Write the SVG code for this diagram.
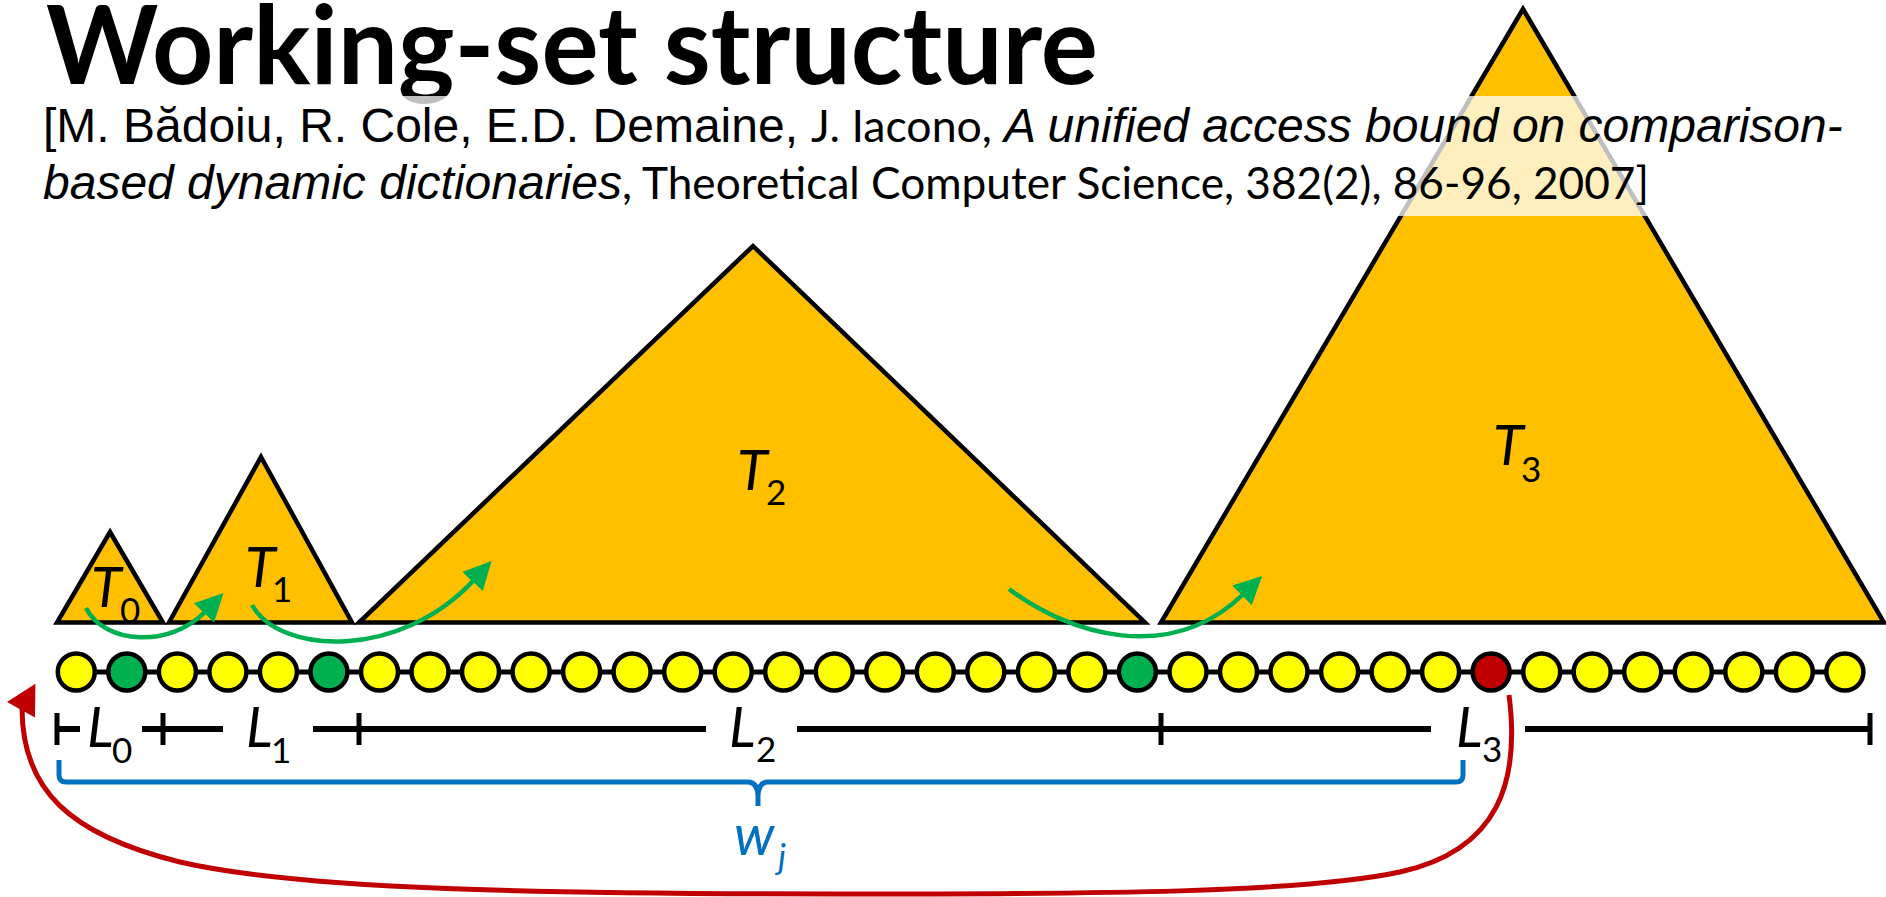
<svg xmlns="http://www.w3.org/2000/svg" width="1886" height="897" viewBox="0 0 1886 897">
<defs>
<style>
.tri{fill:#FFC000;stroke:#000;stroke-width:4.5}
.cy{fill:#FFFF00;stroke:#000;stroke-width:4.5}
.cg{fill:#00B050;stroke:#000;stroke-width:4.5}
.cr{fill:#C00000;stroke:#000;stroke-width:4.5}
.lbl{font-family:Lato,"Open Sans",sans-serif;font-style:italic;font-size:56px;fill:#000}
.sub{font-family:Lato,"Open Sans",sans-serif;font-size:35px;fill:#000}
.arial{font-family:"Liberation Sans",Arial,sans-serif;font-size:48px;fill:#000}
.it{font-style:italic}
.cal{font-family:Lato,"Open Sans",sans-serif;font-size:44px;fill:#000}
.ln{stroke:#000;stroke-width:6;fill:none}
.tk{stroke:#000;stroke-width:5;fill:none}
.ga{stroke:#00B050;stroke-width:4.5;fill:none}
</style>
<marker id="ag" markerUnits="userSpaceOnUse" markerWidth="28" markerHeight="28" viewBox="0 0 26 26" refX="2" refY="13" orient="auto"><path d="M0,0 L26,13 L0,26 z" fill="#00B050"/></marker>
<marker id="ar" markerUnits="userSpaceOnUse" markerWidth="32" markerHeight="32" viewBox="0 0 28 30" refX="2" refY="15" orient="-61"><path d="M0,0 L28,15 L0,30 z" fill="#C00000"/></marker>
</defs>
<rect width="1886" height="897" fill="#fff"/>

<g id="T0"><polygon class="tri" points="110,532 163,622.5 57,622.5"/></g>
<g id="T1"><polygon class="tri" points="261,457 352,622.5 169,622.5"/></g>
<g id="T2"><polygon class="tri" points="753,246 1145,622.5 359,622.5"/></g>
<g id="T3"><polygon class="tri" points="1523,9 1884,622.5 1161,622.5"/></g>

<g id="title">
<text x="46" y="84" font-family="Lato,'Open Sans',sans-serif" font-weight="700" font-size="110" textLength="1052" lengthAdjust="spacingAndGlyphs">Working-set structure</text>
</g>
<g id="citation">
<rect x="40" y="96" width="1810" height="120" fill="#fff" fill-opacity="0.75"/>
<text class="arial" x="43" y="142">[M. Bădoiu, R. Cole, E.D. Demaine, </text>
<text class="cal" x="811" y="142" textLength="181" lengthAdjust="spacingAndGlyphs">J. Iacono,</text>
<text class="arial it" x="1004" y="142">A unified access bound on comparison-</text>
<text class="arial it" x="43" y="199">based dynamic dictionaries</text>
<text class="cal" x="622" y="199" textLength="1027" lengthAdjust="spacingAndGlyphs">, Theoretical Computer Science, 382(2), 86-96, 2007]</text>
</g>

<g id="tree-labels">
<text class="lbl" x="91" y="607">T</text><text class="sub" x="120" y="623">0</text>
<text class="lbl" x="245" y="587">T</text><text class="sub" x="272" y="602">1</text>
<text class="lbl" x="737" y="490">T</text><text class="sub" x="766" y="505">2</text>
<text class="lbl" x="1493" y="465">T</text><text class="sub" x="1521" y="482">3</text>
</g>

<g id="connectors">
<path class="ga" d="M86,608 C105,645 170,648 205.5,611.5" marker-end="url(#ag)"/>
<path class="ga" d="M252,605 C280,655 400,660 474,580" marker-end="url(#ag)"/>
<path class="ga" d="M1009,589 C1070,635 1170,665 1243.5,594" marker-end="url(#ag)"/>
<line x1="76.3" y1="672" x2="1844.9" y2="672" stroke="#000" stroke-width="5"/>
<path d="M1509,695 C1520,780 1500,850 1400,872 C1300,893 1100,894 842,894 C550,894 300,890 180,862 C70,835 22,790 22,708" fill="none" stroke="#C00000" stroke-width="5" marker-end="url(#ar)"/>
</g>

<g id="list">
<circle class="cy" cx="76.3" cy="672" r="18.5"/>
<circle class="cg" cx="126.8" cy="672" r="18.5"/>
<circle class="cy" cx="177.4" cy="672" r="18.5"/>
<circle class="cy" cx="227.9" cy="672" r="18.5"/>
<circle class="cy" cx="278.4" cy="672" r="18.5"/>
<circle class="cg" cx="328.9" cy="672" r="18.5"/>
<circle class="cy" cx="379.5" cy="672" r="18.5"/>
<circle class="cy" cx="430.0" cy="672" r="18.5"/>
<circle class="cy" cx="480.5" cy="672" r="18.5"/>
<circle class="cy" cx="531.1" cy="672" r="18.5"/>
<circle class="cy" cx="581.6" cy="672" r="18.5"/>
<circle class="cy" cx="632.1" cy="672" r="18.5"/>
<circle class="cy" cx="682.7" cy="672" r="18.5"/>
<circle class="cy" cx="733.2" cy="672" r="18.5"/>
<circle class="cy" cx="783.7" cy="672" r="18.5"/>
<circle class="cy" cx="834.3" cy="672" r="18.5"/>
<circle class="cy" cx="884.8" cy="672" r="18.5"/>
<circle class="cy" cx="935.3" cy="672" r="18.5"/>
<circle class="cy" cx="985.8" cy="672" r="18.5"/>
<circle class="cy" cx="1036.4" cy="672" r="18.5"/>
<circle class="cy" cx="1086.9" cy="672" r="18.5"/>
<circle class="cg" cx="1137.4" cy="672" r="18.5"/>
<circle class="cy" cx="1188.0" cy="672" r="18.5"/>
<circle class="cy" cx="1238.5" cy="672" r="18.5"/>
<circle class="cy" cx="1289.0" cy="672" r="18.5"/>
<circle class="cy" cx="1339.6" cy="672" r="18.5"/>
<circle class="cy" cx="1390.1" cy="672" r="18.5"/>
<circle class="cy" cx="1440.6" cy="672" r="18.5"/>
<circle class="cr" cx="1491.1" cy="672" r="18.5"/>
<circle class="cy" cx="1541.7" cy="672" r="18.5"/>
<circle class="cy" cx="1592.2" cy="672" r="18.5"/>
<circle class="cy" cx="1642.7" cy="672" r="18.5"/>
<circle class="cy" cx="1693.3" cy="672" r="18.5"/>
<circle class="cy" cx="1743.8" cy="672" r="18.5"/>
<circle class="cy" cx="1794.3" cy="672" r="18.5"/>
<circle class="cy" cx="1844.9" cy="672" r="18.5"/>
</g>

<g id="intervals">
<path class="ln" d="M57,729 H80 M142,729 H223 M313,729 H706 M797,729 H1431 M1525,729 H1870"/>
<path class="tk" d="M57,713 V745 M163,713 V745 M359,713 V745 M1161,713 V745 M1870,713 V745"/>
<text class="lbl" x="87" y="747">L</text><text class="sub" x="112" y="763">0</text>
<text class="lbl" x="246" y="747">L</text><text class="sub" x="271" y="763">1</text>
<text class="lbl" x="729" y="747">L</text><text class="sub" x="756" y="762">2</text>
<text class="lbl" x="1456" y="747">L</text><text class="sub" x="1482" y="762">3</text>
</g>

<g id="brace">
<path d="M59,760 V775 Q59,782 66,782 H748 Q757,782 758,795 V806 M758,795 Q759,782 768,782 H1456 Q1463,782 1463,775 V760" fill="none" stroke="#0070C0" stroke-width="5"/>
<text x="734" y="855" font-family="Lato,'Open Sans',sans-serif" font-style="italic" font-size="56" fill="#0070C0">w</text>
<text x="778" y="869" font-family="Lato,'Open Sans',sans-serif" font-style="italic" font-size="35" fill="#0070C0">j</text>
</g>
</svg>
